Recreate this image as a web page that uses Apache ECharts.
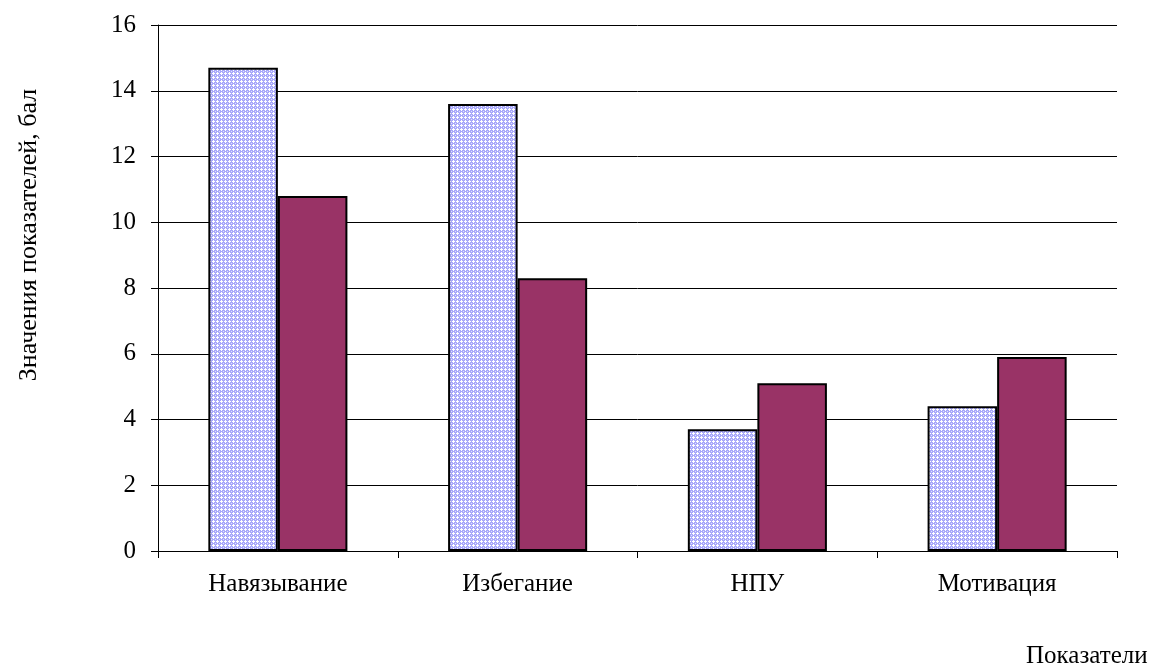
<!DOCTYPE html>
<html>
<head>
<meta charset="utf-8">
<script src="https://cdn.jsdelivr.net/npm/echarts@6/dist/echarts.min.js"></script>
<style>
  html, body { margin: 0; padding: 0; background: #fff; }
  #chart { width: 1157px; height: 669px; }
</style>
</head>
<body>
<div id="chart"></div>
<script>
// Categories and the two compared groups
const categories = ['Навязывание', 'Избегание', 'НПУ', 'Мотивация'];
const groupA = [14.7, 13.6, 3.7, 4.4];
const groupB = [10.8, 8.3, 5.1, 5.9];
const yTicks = { min: 0, max: 16, interval: 2 };

// Small dotted fill tile for the light bars
function makeDotTile() {
  const c = document.createElement('canvas');
  c.width = 4; c.height = 4;
  const g = c.getContext('2d');
  g.fillStyle = '#a8a8fa';
  g.fillRect(0, 0, 4, 4);
  g.fillStyle = '#ffffff';
  // white crosses on a lavender ground
  g.fillRect(1, 0, 1, 1);
  g.fillRect(0, 1, 3, 1);
  g.fillRect(1, 2, 1, 1);
  g.fillStyle = '#e0e0fe';
  g.fillRect(3, 3, 1, 1);
  return c;
}

const font = '"Liberation Serif", "Times New Roman", serif';
const chart = echarts.init(document.getElementById('chart'));
chart.setOption({
  animation: false,
  backgroundColor: '#ffffff',
  grid: { left: 158, right: 40, top: 25, bottom: 116 },
  xAxis: {
    type: 'category',
    data: categories,
    axisLine: { lineStyle: { color: '#000', width: 1 } },
    axisTick: { show: true, length: 7, lineStyle: { color: '#000' } },
    axisLabel: { color: '#000', fontFamily: font, fontSize: 25, margin: 21 },
    name: 'Показатели',
    nameLocation: 'end',
    nameGap: 0,
    nameTextStyle: { color: '#000', fontFamily: font, fontSize: 25, padding: [93, 0, 0, -91], verticalAlign: 'top', align: 'left' }
  },
  yAxis: {
    type: 'value',
    min: yTicks.min, max: yTicks.max, interval: yTicks.interval,
    axisLine: { show: true, lineStyle: { color: '#000', width: 1 } },
    axisTick: { show: true, length: 7, lineStyle: { color: '#000' } },
    axisLabel: { color: '#000', fontFamily: font, fontSize: 25, margin: 22 },
    splitLine: { show: true, lineStyle: { color: '#000', width: 1 } },
    name: 'Значения показателей, бал',
    nameLocation: 'middle',
    nameGap: 116,
    nameRotate: 90,
    nameTextStyle: { color: '#000', fontFamily: font, fontSize: 26, padding: [0, 0, 0, 106] }
  },
  series: [
    {
      type: 'bar',
      data: groupA,
      barGap: '0%',
      barCategoryGap: '42%',
      itemStyle: {
        color: { image: makeDotTile(), repeat: 'repeat' },
        borderColor: '#000',
        borderWidth: 2
      }
    },
    {
      type: 'bar',
      data: groupB,
      itemStyle: {
        color: '#993366',
        borderColor: '#000',
        borderWidth: 2
      }
    }
  ]
});
</script>
</body>
</html>
